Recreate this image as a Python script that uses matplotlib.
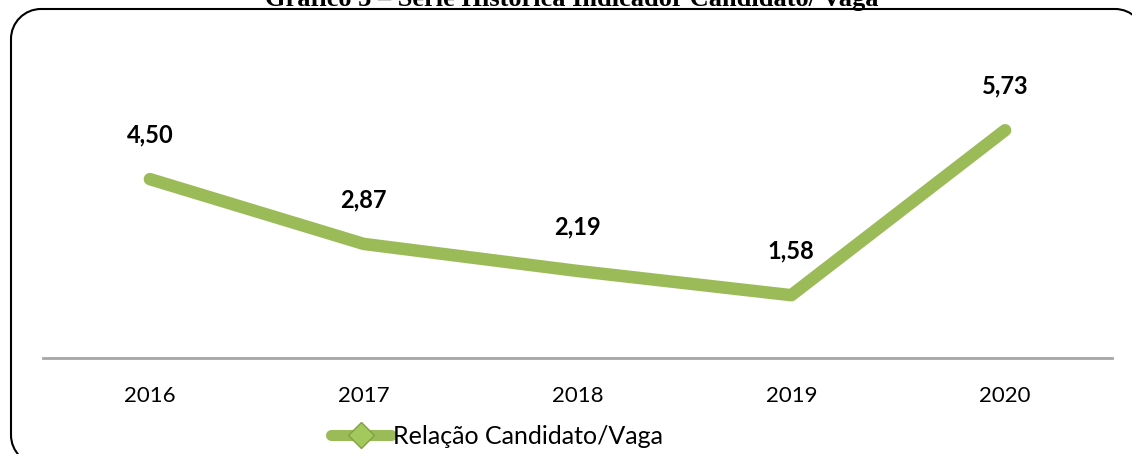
import matplotlib
matplotlib.use("Agg")
import matplotlib.pyplot as plt
from matplotlib.path import Path
from matplotlib.patches import PathPatch
from matplotlib.lines import Line2D

years = ["2016", "2017", "2018", "2019", "2020"]
ratio = [4.50, 2.87, 2.19, 1.58, 5.73]
labels = ["4,50", "2,87", "2,19", "1,58", "5,73"]
series_name = "Relação Candidato/Vaga"
title = "Gráfico 3 – Série Histórica Indicador Candidato/ Vaga"

W, H = 1132, 454
fig = plt.figure(figsize=(W / 100, H / 100), dpi=100)

# background overlay axes in pixel coordinates (y downwards)
bg = fig.add_axes([0, 0, 1, 1])
bg.axis("off")
bg.set_autoscale_on(False)
bg.set_xlim(0, W)
bg.set_ylim(H, 0)

# rounded frame: only the left side, top edge and two corners are on the canvas
L, T, R, B, r = 11, 9, 1145, 465, 30
k = 0.5523 * r
verts = [
    (L + r, B), (L + r - k, B), (L, B - r + k), (L, B - r),
    (L, T + r),
    (L, T + r - k), (L + r - k, T), (L + r, T),
    (R - r, T),
    (R - r + k, T), (R, T + r - k), (R, T + r),
]
codes = [Path.MOVETO, Path.CURVE4, Path.CURVE4, Path.CURVE4,
         Path.LINETO,
         Path.CURVE4, Path.CURVE4, Path.CURVE4,
         Path.LINETO,
         Path.CURVE4, Path.CURVE4, Path.CURVE4]
bg.add_patch(PathPatch(Path(verts, codes), fill=False, edgecolor="black",
                       linewidth=1.5, clip_on=False))
bg.text(572, 6, title, ha="center", va="baseline",
        fontfamily="Liberation Serif", fontweight="bold", fontsize=19)

green = "#9BBB59"
ax = fig.add_axes([43 / W, (H - 358) / H, (1112 - 43) / W, (358 - 40) / H])
ax.patch.set_alpha(0)
x = list(range(len(years)))
ax.plot(x, ratio, color=green, linewidth=9, solid_capstyle="round",
        solid_joinstyle="round")
for xi, yi, lab in zip(x, ratio, labels):
    ax.annotate(lab, (xi, yi), xytext=(0, 32), textcoords="offset points",
                ha="center", va="center", fontsize=17, fontweight="bold",
                fontfamily="Lato")
ax.set_xlim(-0.5, len(years) - 0.5)
ax.set_ylim(0, 8)
ax.set_xticks(x)
ax.set_xticklabels(years, fontfamily="Lato", fontsize=16)
ax.tick_params(axis="x", length=0, pad=20)
ax.set_yticks([])
for s in ["top", "right", "left"]:
    ax.spines[s].set_visible(False)
ax.spines["bottom"].set_color("#A6A6A6")
ax.spines["bottom"].set_linewidth(2)

handle = Line2D([0], [0], color=green, linewidth=8, solid_capstyle="round",
                marker="D", markersize=13, markerfacecolor="#A3C85C",
                markeredgecolor="#7FA044")
fig.legend([handle], [series_name], loc="center",
           bbox_to_anchor=(497 / W, 1 - 436 / H), frameon=False,
           prop={"family": "Lato", "size": 18}, handlelength=2.4,
           handletextpad=0.1, borderpad=0)

fig.savefig("out.png", dpi=100)
